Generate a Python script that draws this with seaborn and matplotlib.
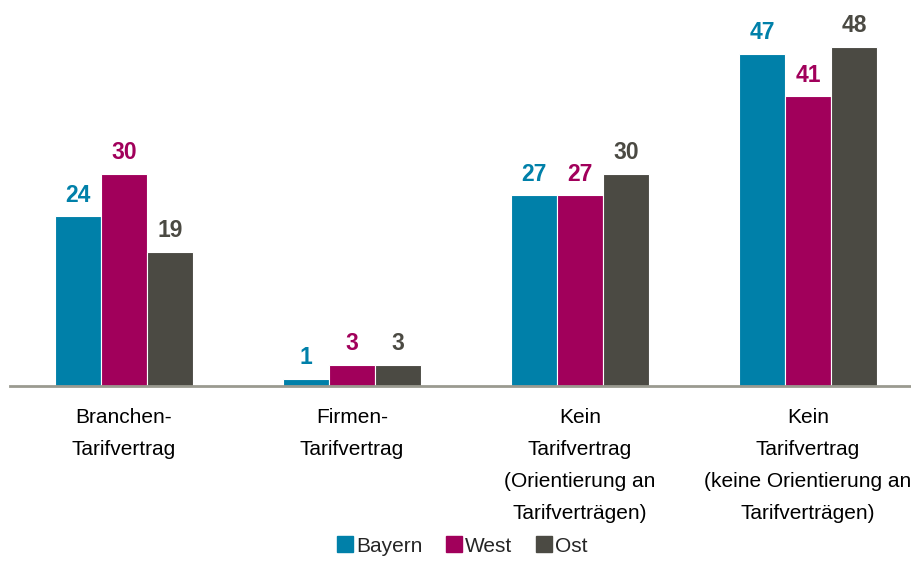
import numpy as np
import pandas as pd
import matplotlib
matplotlib.use("Agg")
import matplotlib.pyplot as plt
import seaborn as sns
from matplotlib.lines import Line2D

# data
categories = [
    "Branchen-\nTarifvertrag",
    "Firmen-\nTarifvertrag",
    "Kein\nTarifvertrag\n(Orientierung an\nTarifverträgen)",
    "Kein\nTarifvertrag\n(keine Orientierung an\nTarifverträgen)",
]
regions = ["Bayern", "West", "Ost"]
bayern = [24, 1, 27, 47]
west = [30, 3, 27, 41]
ost = [19, 3, 30, 48]
colors = ["#0080A9", "#A1005B", "#4B4A43"]

df = pd.DataFrame({
    "Kategorie": categories * 3,
    "Region": [r for r in regions for _ in categories],
    "Wert": bayern + west + ost,
})

sns.set_style("white")
plt.rcParams["font.family"] = ["Liberation Sans", "DejaVu Sans"]

fig = plt.figure(figsize=(9.12, 5.61), dpi=100)
# axes runs a bit past the right edge, like the reference
ax = fig.add_axes([10 / 912, 1 - 386 / 561, 912 / 912, 386 / 561 * 0.999])

sns.barplot(data=df, x="Kategorie", y="Wert", hue="Region", palette=colors,
            saturation=1, width=0.605, edgecolor="white", linewidth=0.8,
            ax=ax, legend=False)

ax.set_xlim(-0.5, 3.5)
ax.set_ylim(0, 386 / 7.07)

for cont, col in zip(ax.containers, colors):
    ax.bar_label(cont, padding=7, color=col, fontsize=16.5, fontweight="bold")

for s in ["top", "right", "left"]:
    ax.spines[s].set_visible(False)
ax.spines["bottom"].set_color("#9A9A90")
ax.spines["bottom"].set_linewidth(2)
ax.set_yticks([])
ax.set_xlabel("")
ax.set_ylabel("")
ax.tick_params(axis="x", length=0, pad=16)
for t in ax.get_xticklabels():
    t.set_fontsize(15)
    t.set_linespacing(1.86)
    t.set_color("#000000")

handles = [Line2D([], [], marker="s", linestyle="", markersize=11,
                  color=c) for c in colors]
fig.legend(handles, regions, loc="center", bbox_to_anchor=(461 / 912, 1 - 546 / 561),
           ncol=3, frameon=False, fontsize=15, handletextpad=0.05,
           columnspacing=1.0, handlelength=1.0, borderpad=0)

fig.savefig("out.png", dpi=100)
